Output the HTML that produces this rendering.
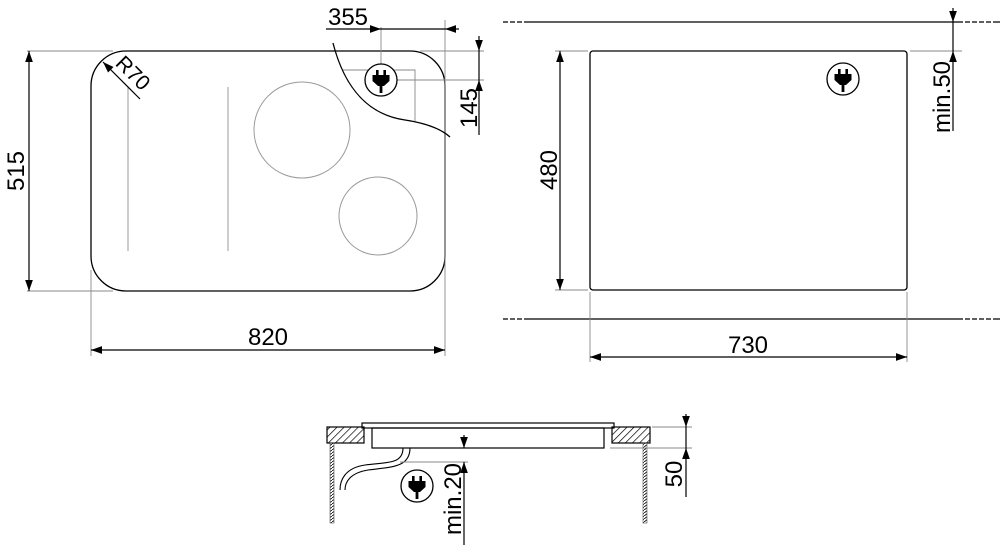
<!DOCTYPE html>
<html><head><style>html,body{margin:0;padding:0;background:#fff}svg{display:block}</style></head><body>
<svg width="1000" height="550" viewBox="0 0 1000 550" xmlns="http://www.w3.org/2000/svg" font-family="Liberation Sans, sans-serif">
<defs>
<marker id="a" viewBox="0 0 10 10" refX="10" refY="5" markerWidth="11" markerHeight="11" markerUnits="userSpaceOnUse" orient="auto-start-reverse"><path d="M0,1.5L10,5L0,8.5z" fill="#000"/></marker>
<pattern id="h" width="5" height="5" patternUnits="userSpaceOnUse" patternTransform="rotate(45)"><line x1="0" y1="0" x2="0" y2="5" stroke="#000" stroke-width="1.4"/></pattern>
<pattern id="w" width="4" height="3" patternUnits="userSpaceOnUse"><line x1="0" y1="3" x2="4" y2="0" stroke="#000" stroke-width="0.9"/></pattern>
<g id="plug"><circle r="16" fill="#fff" stroke="#000" stroke-width="1.3"/><rect x="-5" y="-10" width="2.6" height="6" fill="#000"/><rect x="2.4" y="-10" width="2.6" height="6" fill="#000"/><path d="M-8.5,-5H8.5V1L3,6H-3L-8.5,1z" fill="#000"/><rect x="-1.4" y="5" width="2.8" height="8" fill="#000"/></g>
</defs>
<g fill="none" stroke="#000">
<rect x="91" y="51" width="354" height="240" rx="35" stroke-width="1.3"/>
<g stroke="#999" stroke-width="1"><line x1="128" y1="87" x2="128" y2="251"/><line x1="228" y1="87" x2="228" y2="251"/>
<circle cx="302" cy="130" r="48"/><circle cx="378" cy="216" r="39"/></g>
<g stroke="#888" stroke-width="0.9">
<line x1="27" y1="51" x2="113" y2="51"/><line x1="27" y1="291" x2="113" y2="291"/>
<line x1="91" y1="270" x2="91" y2="356"/><line x1="445" y1="20" x2="445" y2="356"/>
<line x1="381" y1="27" x2="381" y2="66"/><line x1="420" y1="51" x2="484" y2="51"/><line x1="396" y1="80" x2="484" y2="80"/>
<polyline points="343,70 415,70 415,121"/></g>
<path d="M333,43 C345,90 370,115 405,120 C425,123 440,128 450,137" stroke-width="1.3"/>
<line x1="29" y1="51" x2="29" y2="291" marker-start="url(#a)" marker-end="url(#a)" stroke-width="1.2"/>
<line x1="91" y1="350" x2="445" y2="350" marker-start="url(#a)" marker-end="url(#a)" stroke-width="1.2"/>
<line x1="326" y1="29" x2="381" y2="29" marker-end="url(#a)" stroke-width="1.2"/>
<line x1="459" y1="29" x2="445" y2="29" marker-end="url(#a)" stroke-width="1.2"/>
<line x1="381" y1="29" x2="445" y2="29" stroke-width="1.2"/>
<line x1="479" y1="36" x2="479" y2="51" marker-end="url(#a)" stroke-width="1.2"/>
<line x1="479" y1="51" x2="479" y2="80" stroke-width="1.2"/>
<line x1="479" y1="135" x2="479" y2="80" marker-end="url(#a)" stroke-width="1.2"/>
<line x1="140" y1="99" x2="103" y2="62" marker-end="url(#a)" stroke-width="1.2"/>
<g stroke-width="1.2"><line x1="503" y1="22" x2="1000" y2="22"/><line x1="503" y1="319" x2="1000" y2="319"/></g>
<g stroke="#fff" stroke-width="2"><path d="M508,22h2M515,22h2M522,22h2M963,22h2M970,22h2M977,22h2M984,22h2M991,22h2M963,319h2M970,319h2M977,319h2M984,319h2M991,319h2M508,319h2M515,319h2M522,319h2"/></g>
<rect x="590" y="51" width="317" height="239" rx="3" stroke-width="1.3"/>
<g stroke="#888" stroke-width="0.9"><line x1="555" y1="51" x2="588" y2="51"/><line x1="555" y1="290" x2="588" y2="290"/>
<line x1="590" y1="292" x2="590" y2="362"/><line x1="907" y1="292" x2="907" y2="362"/><line x1="910" y1="51" x2="962" y2="51"/></g>
<line x1="560" y1="51" x2="560" y2="290" marker-start="url(#a)" marker-end="url(#a)" stroke-width="1.2"/>
<line x1="590" y1="357" x2="907" y2="357" marker-start="url(#a)" marker-end="url(#a)" stroke-width="1.2"/>
<line x1="953" y1="8" x2="953" y2="22" marker-end="url(#a)" stroke-width="1.2"/>
<line x1="953" y1="22" x2="953" y2="51" stroke-width="1.2"/>
<line x1="953" y1="131" x2="953" y2="51" marker-end="url(#a)" stroke-width="1.2"/>
<rect x="362" y="423" width="252" height="5" stroke-width="1.2"/>
<rect x="372" y="428" width="232" height="20" stroke-width="1.2"/>
<rect x="327" y="427" width="37" height="16" fill="url(#h)" stroke-width="1.2"/>
<rect x="612" y="427" width="38" height="16" fill="url(#h)" stroke-width="1.2"/>
<rect x="330" y="443" width="4" height="80" fill="url(#w)" stroke="#555" stroke-width="0.6"/>
<rect x="643" y="443" width="4" height="80" fill="url(#w)" stroke="#555" stroke-width="0.6"/>
<path d="M403,448 C403,465 385,462 365,465 C345,468 340,480 340,490" stroke-width="1.1"/>
<path d="M410,448 C410,468 390,467 368,470 C350,473 345,482 345,490" stroke-width="1.1"/>
<g stroke="#888" stroke-width="0.9"><line x1="400" y1="462" x2="468" y2="462"/><line x1="652" y1="427" x2="692" y2="427"/><line x1="610" y1="448" x2="692" y2="448"/></g>
<line x1="464" y1="435" x2="464" y2="448" marker-end="url(#a)" stroke-width="1.2"/>
<line x1="464" y1="545" x2="464" y2="462" marker-end="url(#a)" stroke-width="1.2"/>
<line x1="686" y1="414" x2="686" y2="427" marker-end="url(#a)" stroke-width="1.2"/>
<line x1="686" y1="427" x2="686" y2="448" stroke-width="1.2"/>
<line x1="686" y1="497" x2="686" y2="448" marker-end="url(#a)" stroke-width="1.2"/>
</g>
<use href="#plug" x="381" y="80"/>
<use href="#plug" x="843" y="79"/>
<use href="#plug" x="417" y="486"/>
<g font-size="24" fill="#000" text-anchor="middle">
<text x="348" y="25">355</text>
<text x="268" y="345">820</text>
<text x="748" y="353">730</text>
<text transform="translate(24,171) rotate(-90)">515</text>
<text transform="translate(477,108) rotate(-90)">145</text>
<text transform="translate(557,170) rotate(-90)">480</text>
<text transform="translate(950,97) rotate(-90)">min.50</text>
<text transform="translate(461,499) rotate(-90)">min.20</text>
<text transform="translate(682,474) rotate(-90)">50</text>
<text transform="translate(128,78) rotate(45)" font-size="21">R70</text>
</g>
</svg>
</body></html>
